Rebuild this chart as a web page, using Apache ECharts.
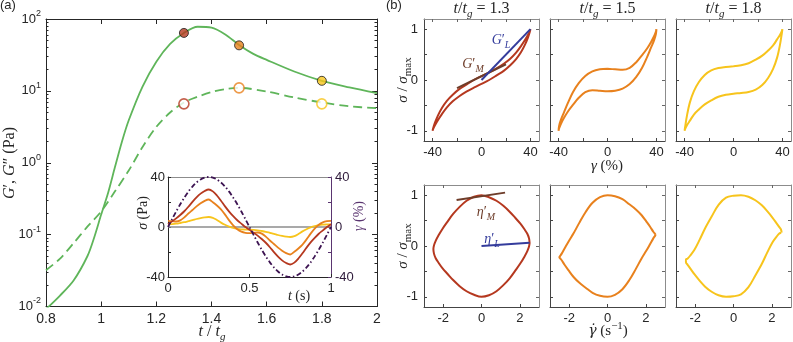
<!DOCTYPE html>
<html><head><meta charset="utf-8">
<script src="https://cdn.jsdelivr.net/npm/echarts@6/dist/echarts.min.js"></script>
<style>html,body{margin:0;padding:0;background:#fff}#c{width:793px;height:342px}</style>
</head><body><div id="c"></div>
<script>
// ---------- Panel (a): moduli vs t/tg ----------
const ttgStorage = [0.80,0.85,0.90,0.95,0.975,1.00,1.025,1.05,1.075,1.10,1.15,1.20,1.25,1.30,1.35,1.40,1.45,1.50,1.55,1.60,1.70,1.80,1.90,2.00];
const storageModulus = [0.0092,0.0141,0.023,0.050,0.092,0.19,0.38,0.87,1.95,3.9,11.5,25.5,45,64,78,76,61,43.5,33,27,18.6,13.8,11.2,9.3];
const ttgLoss = [0.80,0.85,0.90,0.95,1.00,1.05,1.10,1.15,1.20,1.25,1.30,1.35,1.40,1.45,1.50,1.60,1.70,1.80,1.90,2.00];
const lossModulus = [0.032,0.046,0.076,0.129,0.21,0.40,0.78,1.66,3.16,5.0,6.9,8.3,9.6,10.6,11.0,9.8,8.1,6.9,6.1,5.75];
const markerTtg = [1.3, 1.5, 1.8];
const markerStorage = [64, 43, 13.8];
const markerLoss = [6.6, 11, 6.6];
const logMinorTicks = [0.02,0.03,0.04,0.05,0.06,0.07,0.08,0.09,0.2,0.3,0.4,0.5,0.6,0.7,0.8,0.9,2,3,4,5,6,7,8,9,20,30,40,50,60,70,80,90];

// ---------- Oscillation cycle (inset + Lissajous) ----------
const cycleTime = [0,0.025,0.05,0.075,0.1,0.125,0.15,0.175,0.2,0.225,0.25,0.275,0.3,0.325,0.35,0.375,0.4,0.425,0.45,0.475,0.5,0.525,0.55,0.575,0.6,0.625,0.65,0.675,0.7,0.725,0.75,0.775,0.8,0.825,0.85,0.875,0.9,0.925,0.95,0.975,1];
const strainPct = [0,6.26,12.36,18.16,23.51,28.28,32.36,35.64,38.04,39.51,40,39.51,38.04,35.64,32.36,28.28,23.51,18.16,12.36,6.26,0,-6.26,-12.36,-18.16,-23.51,-28.28,-32.36,-35.64,-38.04,-39.51,-40,-39.51,-38.04,-35.64,-32.36,-28.28,-23.51,-18.16,-12.36,-6.26,0];
const strainRate = [2.51,2.48,2.39,2.24,2.03,1.77,1.48,1.14,0.78,0.39,0,-0.39,-0.78,-1.14,-1.48,-1.77,-2.03,-2.24,-2.39,-2.48,-2.51,-2.48,-2.39,-2.24,-2.03,-1.77,-1.48,-1.14,-0.78,-0.39,0,0.39,0.78,1.14,1.48,1.77,2.03,2.24,2.39,2.48,2.51];
// normalized stress read from the elastic (stress-strain) loops
const stressNorm13 = [0.075,0.15,0.23,0.32,0.42,0.54,0.67,0.79,0.89,0.96,1.0,0.95,0.84,0.70,0.55,0.41,0.29,0.18,0.09,0.0,-0.075,-0.15,-0.23,-0.32,-0.42,-0.54,-0.67,-0.79,-0.89,-0.96,-1.0,-0.95,-0.84,-0.70,-0.55,-0.41,-0.29,-0.18,-0.09,0.0,0.075];
const stressNorm15 = [0.22,0.21,0.20,0.24,0.35,0.49,0.62,0.75,0.86,0.95,1.0,0.90,0.78,0.64,0.45,0.24,0.06,-0.08,-0.17,-0.21,-0.22,-0.21,-0.20,-0.24,-0.35,-0.49,-0.62,-0.75,-0.86,-0.95,-1.0,-0.90,-0.78,-0.64,-0.45,-0.24,-0.06,0.08,0.17,0.21,0.22];
const stressNorm18 = [0.27,0.29,0.33,0.40,0.48,0.58,0.68,0.80,0.89,0.96,1.0,0.92,0.70,0.44,0.22,0.04,-0.10,-0.19,-0.235,-0.255,-0.27,-0.29,-0.33,-0.40,-0.48,-0.58,-0.68,-0.80,-0.89,-0.96,-1.0,-0.92,-0.70,-0.44,-0.22,-0.04,0.10,0.19,0.235,0.255,0.27];
// normalized stress read from the viscous (stress-strain-rate) loops
const stressVisc13 = [0.06,0.15,0.24,0.33,0.44,0.55,0.67,0.79,0.89,0.96,1.0,0.97,0.89,0.77,0.63,0.48,0.34,0.21,0.10,0.01,-0.06,-0.15,-0.24,-0.33,-0.44,-0.55,-0.67,-0.79,-0.89,-0.96,-1.0,-0.97,-0.89,-0.77,-0.63,-0.48,-0.34,-0.21,-0.10,-0.01,0.06];
const stressVisc15 = [0.22,0.24,0.28,0.37,0.48,0.61,0.72,0.82,0.92,0.98,1.0,0.96,0.85,0.67,0.45,0.25,0.09,-0.05,-0.15,-0.20,-0.22,-0.24,-0.28,-0.37,-0.48,-0.61,-0.72,-0.82,-0.92,-0.98,-1.0,-0.96,-0.85,-0.67,-0.45,-0.25,-0.09,0.05,0.15,0.20,0.22];
const stressVisc18 = [0.265,0.32,0.37,0.45,0.56,0.68,0.80,0.90,0.97,1.0,0.99,0.95,0.81,0.58,0.35,0.12,-0.07,-0.18,-0.245,-0.26,-0.265,-0.32,-0.37,-0.45,-0.56,-0.68,-0.80,-0.90,-0.97,-1.0,-0.99,-0.95,-0.81,-0.58,-0.35,-0.12,0.07,0.18,0.245,0.26,0.265];
const stressMaxPa = [30, 22, 8];
const caseLabels = ['1.3', '1.5', '1.8'];

// tangent lines (data coordinates)
const tangentGL = [[0,0],[40,1]];
const tangentGM = [[-20,-0.16],[20,0.31]];
const tangentEtaM = [[-1.3,0.905],[1.23,1.05]];
const tangentEtaL = [[0,0],[2.51,0.066]];

// ---------- styles ----------
const SANS = '"Liberation Sans", Arial, sans-serif';
const SERIF = '"Liberation Serif", "Times New Roman", serif';
const DARK = '#262626';
const GRAY = '#8c8c8c';
const GREEN = '#5fb55a';
const CASE_COLORS = ['#b5381f', '#e8811d', '#f7c41c'];
const PURPLE = '#3d1452';
const PURPLE_AX = '#5a3570';
const BLUE = '#343c9c';
const BROWN = '#6e3d2a';

const zip = (a, b) => a.map((v, i) => [v, b[i]]);
const stressCases = [stressNorm13, stressNorm15, stressNorm18];
const viscCases = [stressVisc13, stressVisc15, stressVisc18];

const grids = [], xAxes = [], yAxes = [], series = [], graphics = [];

function ax(extra, color, showLine) {
  return Object.assign({
    type: 'value',
    axisLine: {show: showLine !== false, onZero: false, lineStyle: {color: color, width: 1}},
    axisTick: {show: true, inside: true, length: 4, lineStyle: {color: color, width: 1}},
    axisLabel: {show: false},
    splitLine: {show: false}
  }, extra);
}

// ----- panel (a) -----
grids.push({left: 46, top: 19, width: 331, height: 287.5, outerBoundsMode: 'none'});
xAxes.push(ax({gridIndex: 0, min: 0.8, max: 2, interval: 0.2, position: 'bottom',
  axisTick: {show: true, inside: true, length: 5, lineStyle: {color: DARK}},
  axisLabel: {show: true, color: DARK, fontSize: 14, fontFamily: SANS, margin: 6}}, DARK));
xAxes.push(ax({gridIndex: 0, min: 0.8, max: 2, interval: 0.2, position: 'top',
  axisTick: {show: true, inside: true, length: 5, lineStyle: {color: DARK}}}, DARK));
const logRich = {
  b: {fontSize: 13, fontFamily: SANS, color: DARK, lineHeight: 20, verticalAlign: 'middle'},
  p: {fontSize: 9, fontFamily: SANS, color: DARK, lineHeight: 10, verticalAlign: 'top'}
};
yAxes.push(ax({gridIndex: 0, type: 'log', logBase: 10, min: 0.01, max: 100, position: 'left',
  axisTick: {show: true, inside: true, length: 5, lineStyle: {color: DARK}},
  axisLabel: {show: true, margin: 5, formatter: v => '{b|10}{p|' + Math.round(Math.log10(v)) + '}', rich: logRich}}, DARK));
yAxes.push(ax({gridIndex: 0, type: 'log', logBase: 10, min: 0.01, max: 100, position: 'right',
  axisTick: {show: true, inside: true, length: 5, lineStyle: {color: DARK}}}, DARK));
yAxes.push(ax({gridIndex: 0, type: 'log', logBase: 10, min: 0.01, max: 100, position: 'left',
  axisTick: {show: true, inside: true, length: 2.5, customValues: logMinorTicks, lineStyle: {color: DARK}}}, DARK, false));
yAxes.push(ax({gridIndex: 0, type: 'log', logBase: 10, min: 0.01, max: 100, position: 'right',
  axisTick: {show: true, inside: true, length: 2.5, customValues: logMinorTicks, lineStyle: {color: DARK}}}, DARK, false));

series.push({type: 'line', xAxisIndex: 0, yAxisIndex: 0, data: zip(ttgStorage, storageModulus),
  smooth: 0.3, showSymbol: false, lineStyle: {color: GREEN, width: 1.8}, z: 2});
series.push({type: 'line', xAxisIndex: 0, yAxisIndex: 0, data: zip(ttgLoss, lossModulus),
  smooth: 0.3, showSymbol: false, lineStyle: {color: GREEN, width: 1.8, type: [9, 5]}, z: 2});
series.push({type: 'scatter', xAxisIndex: 0, yAxisIndex: 0, symbolSize: 9, z: 4,
  data: markerTtg.map((x, i) => ({value: [x, markerStorage[i]], itemStyle: {color: CASE_COLORS[i], borderColor: '#1a1a1a', borderWidth: 1}}))});
series.push({type: 'scatter', xAxisIndex: 0, yAxisIndex: 0, symbolSize: 10, z: 4,
  data: markerTtg.map((x, i) => ({value: [x, markerLoss[i]], itemStyle: {color: '#fff', borderColor: CASE_COLORS[i], borderWidth: 1.6}}))});

// ----- inset -----
grids.push({left: 168, top: 177, width: 163, height: 100, outerBoundsMode: 'none'});
xAxes.push(ax({gridIndex: 1, min: 0, max: 1, interval: 0.5, position: 'bottom',
  axisTick: {show: true, inside: true, length: 3, lineStyle: {color: DARK}},
  axisLabel: {show: true, color: DARK, fontSize: 13, fontFamily: SANS, margin: 5}}, DARK));
xAxes.push(ax({gridIndex: 1, min: 0, max: 1, interval: 0.5, position: 'top', axisTick: {show: false}}, GRAY));
yAxes.push(ax({gridIndex: 1, min: -40, max: 40, interval: 20, position: 'left',
  axisTick: {show: true, inside: true, length: 3, lineStyle: {color: DARK}},
  axisLabel: {show: true, color: DARK, fontSize: 13, fontFamily: SANS, margin: 3, formatter: v => (v % 40 === 0 ? String(v) : '')}}, DARK));
yAxes.push(ax({gridIndex: 1, min: -40, max: 40, interval: 20, position: 'right',
  axisTick: {show: true, inside: true, length: 3, lineStyle: {color: PURPLE_AX}},
  axisLabel: {show: true, color: '#2e1a3a', fontSize: 13, fontFamily: SANS, margin: 4, formatter: v => (v % 40 === 0 ? String(v) : '')}}, PURPLE_AX));
const insetY = 4, insetYR = 5;
[2, 1, 0].forEach(c => {
  const s = {type: 'line', xAxisIndex: 2, yAxisIndex: insetY, smooth: 0.3, showSymbol: false,
    data: zip(cycleTime, stressCases[c].map(v => v * stressMaxPa[c])),
    lineStyle: {color: CASE_COLORS[c], width: 1.8}, z: 3};
  if (c === 2) s.markLine = {silent: true, symbol: 'none', label: {show: false}, animation: false,
    lineStyle: {color: GRAY, type: 'solid', width: 1.5}, data: [{yAxis: 0}], z: 1};
  series.push(s);
});
series.push({type: 'line', xAxisIndex: 2, yAxisIndex: insetYR, smooth: 0.3, showSymbol: false,
  data: zip(cycleTime, strainPct), lineStyle: {color: PURPLE, width: 1.8, type: [5, 2.5, 1.5, 2.5]}, z: 4});

// ----- panel (b) -----
const colLeft = [424, 550, 676];
const rowTop = [19, 185];
for (let r = 0; r < 2; r++) {
  for (let c = 0; c < 3; c++) {
    const gi = grids.length;
    grids.push({left: colLeft[c], top: rowTop[r], width: 115, height: 122, outerBoundsMode: 'none'});
    const elastic = r === 0;
    const xr = elastic ? 47 : 3;
    const xt = elastic ? [-40, -20, 0, 20, 40] : [-2, 0, 2];
    const xl = elastic ? [-40, 0, 40] : [-2, 0, 2];
    const xi = xAxes.length, yi = yAxes.length;
    xAxes.push(ax({gridIndex: gi, min: -xr, max: xr, position: 'bottom',
      axisTick: {show: true, inside: true, length: 3, customValues: xt, lineStyle: {color: '#444'}},
      axisLabel: {show: true, customValues: xl, color: DARK, fontSize: 13, fontFamily: SANS, margin: 5}}, '#444'));
    xAxes.push(ax({gridIndex: gi, min: -xr, max: xr, position: 'top',
      axisTick: {show: true, inside: true, length: 3, customValues: xt, lineStyle: {color: '#666'}}}, GRAY));
    yAxes.push(ax({gridIndex: gi, min: -1.2, max: 1.2, position: 'left',
      axisTick: {show: true, inside: true, length: 3, customValues: [-1, -0.5, 0, 0.5, 1], lineStyle: {color: '#444'}},
      axisLabel: {show: c === 0, customValues: [-1, 0, 1], color: DARK, fontSize: 13, fontFamily: SANS, margin: 6}}, '#444'));
    yAxes.push(ax({gridIndex: gi, min: -1.2, max: 1.2, position: 'right',
      axisTick: {show: true, inside: true, length: 3, customValues: [-1, -0.5, 0, 0.5, 1], lineStyle: {color: '#666'}}}, GRAY));
    series.push({type: 'line', xAxisIndex: xi, yAxisIndex: yi, smooth: 0.35, showSymbol: false,
      data: elastic ? zip(strainPct, stressCases[c]) : zip(strainRate, viscCases[c]),
      lineStyle: {color: CASE_COLORS[c], width: 2}, z: 3});
    if (c === 0) {
      const t1 = elastic ? tangentGM : tangentEtaM;
      const t2 = elastic ? tangentGL : tangentEtaL;
      series.push({type: 'line', xAxisIndex: xi, yAxisIndex: yi, data: t1, showSymbol: false,
        lineStyle: {color: BROWN, width: 2}, z: 4});
      series.push({type: 'line', xAxisIndex: xi, yAxisIndex: yi, data: t2, showSymbol: false,
        lineStyle: {color: BLUE, width: 2}, z: 4});
    }
  }
}

// ----- text -----
function mrich(fs, color) {
  const sub = Math.round(fs * 0.7);
  return {
    i: {fontFamily: SERIF, fontStyle: 'italic', fontSize: fs, fill: color, lineHeight: fs + 6, verticalAlign: 'middle'},
    d: {fontFamily: '"DejaVu Serif", serif', fontStyle: 'italic', fontSize: fs - 1, fill: color, lineHeight: fs + 6, verticalAlign: 'middle'},
    n: {fontFamily: SERIF, fontSize: fs, fill: color, lineHeight: fs + 6, verticalAlign: 'middle'},
    si: {fontFamily: SERIF, fontStyle: 'italic', fontSize: sub, fill: color, lineHeight: sub, verticalAlign: 'bottom'},
    sn: {fontFamily: SERIF, fontSize: sub, fill: color, lineHeight: sub, verticalAlign: 'bottom'},
    pn: {fontFamily: SERIF, fontSize: sub, fill: color, lineHeight: sub, verticalAlign: 'top'}
  };
}
function txt(x, y, text, fs, color, rot, align) {
  graphics.push({type: 'text', x: x, y: y, rotation: rot || 0, z: 100,
    style: {text: text, rich: mrich(fs, color), align: align || 'center', verticalAlign: 'middle', fill: color}});
}
graphics.push({type: 'text', x: 0, y: 5, style: {text: '(a)', fontSize: 13, fontFamily: SANS, fill: DARK, verticalAlign: 'middle'}});
graphics.push({type: 'text', x: 386, y: 5, style: {text: '(b)', fontSize: 13, fontFamily: SANS, fill: DARK, verticalAlign: 'middle'}});
txt(212, 332, '{i|t}{n| / }{i|t}{si|g}', 16, DARK);
txt(10, 163, '{i|G}{n|′, }{i|G}{n|″ (Pa)}', 16, DARK, Math.PI / 2);
txt(299, 296, '{i|t}{n| (s)}', 14, DARK);
txt(143, 213, '{i|σ}{n| (Pa)}', 14, DARK, Math.PI / 2);
txt(359, 216, '{i|γ}{n| (%)}', 14, PURPLE_AX, Math.PI / 2);
caseLabels.forEach((lab, c) => txt(colLeft[c] + 57.5, 9, '{i|t}{n|/}{i|t}{si|g}{n| = ' + lab + '}', 16, DARK));
txt(403, 80, '{i|σ}{n| / }{i|σ}{sn|max}', 15, DARK, Math.PI / 2);
txt(403, 246, '{i|σ}{n| / }{i|σ}{sn|max}', 15, DARK, Math.PI / 2);
txt(607, 166, '{i|γ}{n| (%)}', 15, DARK);
txt(608, 331, '{d|γ\u0307}{n| (s}{pn|−1}{n|)}', 15, DARK);
txt(501, 40, '{i|G}{n|′}{si|L}', 14, BLUE);
txt(473, 64, '{i|G}{n|′}{si|M}', 14, BROWN);
txt(486, 212, '{i|η}{n|′}{si|M}', 14, BROWN);
txt(492, 239, '{i|η}{n|′}{si|L}', 14, BLUE);

const chart = echarts.init(document.getElementById('c'), null, {renderer: 'canvas'});
chart.setOption({
  animation: false,
  backgroundColor: '#fff',
  grid: grids, xAxis: xAxes, yAxis: yAxes, series: series, graphic: graphics
});
</script></body></html>
